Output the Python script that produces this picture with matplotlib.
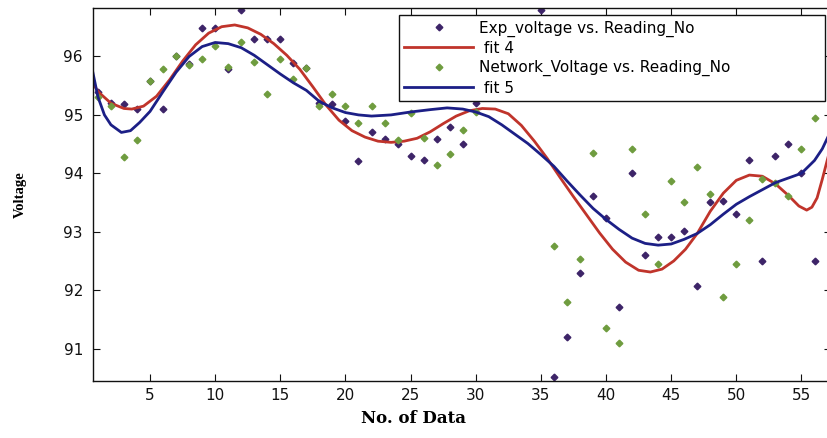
import matplotlib
matplotlib.use("Agg")
import matplotlib.pyplot as plt

# -----------------------------------------------------------------
# data

reading_no = list(range(1, 57))

exp_voltage = [95.40, 95.20, 95.19, 95.10, 95.58, 95.10, 96.00, 95.88, 96.48, 96.48,
               95.79, 96.80, 96.30, 96.30, 96.30, 95.89, 95.81, 95.20, 95.19, 94.90,
               94.21, 94.70, 94.59, 94.50, 94.30, 94.22, 94.59, 94.80, 94.50, 95.20,
               95.60, 95.90, 96.20, 96.40, 96.80, 90.52, 91.20, 92.30, 93.61, 93.23,
               91.71, 94.01, 92.61, 92.91, 92.91, 93.01, 92.07, 93.51, 93.53, 93.31,
               94.22, 92.50, 94.30, 94.50, 94.00, 92.50]

network_voltage = [95.31, 95.15, 94.28, 94.57, 95.58, 95.79, 96.01, 95.85, 95.95, 96.18,
                   95.82, 96.24, 95.90, 95.35, 95.96, 95.61, 95.80, 95.15, 95.36, 95.15,
                   94.86, 95.16, 94.86, 94.57, 95.03, 94.61, 94.15, 94.33, 94.74, 95.05,
                   95.50, 95.80, 96.00, 95.70, 95.60, 92.76, 91.80, 92.53, 94.34, 91.35,
                   91.10, 94.42, 93.31, 92.44, 93.86, 93.51, 94.11, 93.65, 91.89, 92.44,
                   93.20, 93.90, 93.84, 93.61, 94.41, 94.94]

fit4_x = [0.6, 1.0, 2.0, 3.0, 3.6, 4.5, 5.5, 6.5, 7.5, 8.5, 9.5, 10.5, 11.5, 12.5, 13.5,
          14.5, 15.5, 16.5, 17.5, 18.5, 19.5, 20.5, 21.5, 22.5, 23.5, 24.5, 25.5, 26.5,
          27.5, 28.5, 29.5, 30.5, 31.5, 32.5, 33.5, 34.5, 35.5, 36.5, 37.5, 38.5, 39.5,
          40.5, 41.5, 42.5, 43.4, 44.3, 45.2, 46.1, 47.0, 48.0, 49.0, 50.0, 51.0, 52.0,
          53.0, 54.0, 54.8, 55.4, 55.8, 56.2, 56.6, 57.3]
fit4_y = [95.55, 95.40, 95.20, 95.11, 95.10, 95.15, 95.32, 95.60, 95.92, 96.20, 96.40,
          96.51, 96.54, 96.49, 96.38, 96.22, 96.02, 95.78, 95.48, 95.17, 94.91, 94.73,
          94.62, 94.55, 94.53, 94.55, 94.60, 94.71, 94.85, 94.98, 95.07, 95.11, 95.10,
          95.02, 94.82, 94.55, 94.25, 93.92, 93.60, 93.29, 92.98, 92.70, 92.48, 92.34,
          92.31, 92.36, 92.50, 92.70, 92.97, 93.35, 93.66, 93.88, 93.97, 93.95, 93.82,
          93.62, 93.44, 93.37, 93.42, 93.58, 93.90, 94.50]

fit5_x = [0.6, 1.0, 1.5, 2.0, 2.8, 3.5, 4.2, 5.0, 6.0, 7.0, 8.0, 9.0, 10.0, 11.0, 12.0,
          13.0, 14.0, 15.0, 16.0, 17.0, 18.0, 19.0, 20.0, 21.0, 22.0, 23.5, 25.0, 26.5,
          27.8, 29.0, 30.0, 31.0, 32.0, 33.0, 34.0, 35.0, 36.0, 37.0, 38.0, 39.0, 40.0,
          41.0, 42.0, 43.0, 44.0, 45.0, 46.0, 47.0, 48.0, 49.0, 50.0, 51.0, 52.0, 53.0,
          54.0, 55.0, 56.0, 56.6, 57.3]
fit5_y = [95.74, 95.31, 95.00, 94.83, 94.70, 94.73, 94.87, 95.06, 95.40, 95.73, 96.00,
          96.17, 96.24, 96.22, 96.15, 96.02, 95.86, 95.70, 95.55, 95.42, 95.23, 95.12,
          95.04, 95.00, 94.98, 95.00, 95.05, 95.09, 95.12, 95.10, 95.05, 94.97, 94.83,
          94.67, 94.51, 94.32, 94.12, 93.87, 93.63, 93.40, 93.21, 93.04, 92.89, 92.80,
          92.77, 92.79, 92.87, 92.97, 93.12, 93.30, 93.47, 93.60, 93.72, 93.84, 93.92,
          94.00, 94.22, 94.42, 94.75]

x_ticks = [5, 10, 15, 20, 25, 30, 35, 40, 45, 50, 55]
y_ticks = [91, 92, 93, 94, 95, 96]

# -----------------------------------------------------------------

fig = plt.figure(figsize=(8.27, 4.38), dpi=100)
ax = fig.add_axes([0.1121, 0.1301, 0.8928, 0.8516])

# data points and the two fits, in the order of the legend
ax.plot(reading_no, exp_voltage, linestyle='none', marker='D', markersize=3.4,
        color='#3d2468', label="Exp_voltage vs. Reading_No")
ax.plot(fit4_x, fit4_y, color='#c0342b', linewidth=2.0, label=" fit 4")
ax.plot(reading_no, network_voltage, linestyle='none', marker='D', markersize=3.4,
        color='#6f9c3f', label="Network_Voltage vs. Reading_No")
ax.plot(fit5_x, fit5_y, color='#1c1f86', linewidth=2.0, label=" fit 5")

# axis details
ax.set_xlim(0.6, 57.27)
ax.set_ylim(90.444, 96.83)
ax.set_xticks(x_ticks)
ax.set_yticks(y_ticks)
ax.tick_params(direction='in', top=True, right=True, length=5, width=0.8,
               labelsize=11, colors='#111111')
ax.tick_params(axis='x', pad=5)
ax.tick_params(axis='y', pad=7)
for spine in ax.spines.values():
    spine.set_linewidth(1.0)
    spine.set_color('#111111')

fig.text(0.5, 0.025, "No. of Data", ha='center', va='bottom',
         family='DejaVu Serif', fontweight='bold', fontsize=12)
fig.text(0.024, 0.555, "Voltage", ha='center', va='center', rotation=90,
         family='Liberation Serif', fontweight='bold', fontsize=10.5)

leg = ax.legend(loc='upper left', bbox_to_anchor=(0.4825, 0.0, 0.5151, 0.9658),
                bbox_transform=fig.transFigure, mode='expand', borderaxespad=0,
                fontsize=11, numpoints=1, handlelength=4.5, handletextpad=0.4,
                labelspacing=0.28, borderpad=0.35, fancybox=False, framealpha=1)
leg.get_frame().set_edgecolor('#111111')
leg.get_frame().set_linewidth(1.0)

plt.savefig("out.png", dpi=100)
plt.close()
